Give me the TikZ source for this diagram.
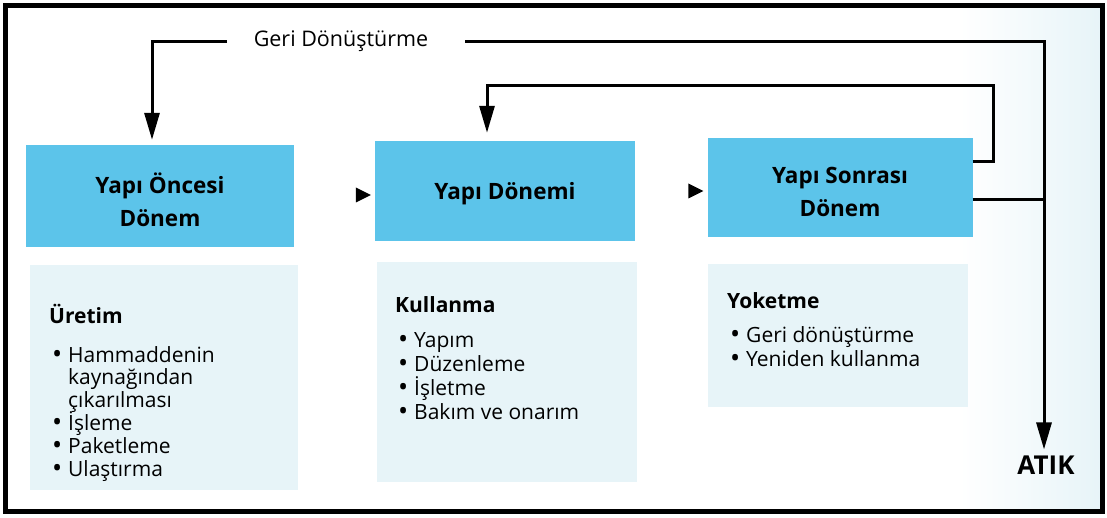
\documentclass[tikz,border=0pt]{standalone}
\usepackage{fontspec}
\setmainfont{Open Sans}
\usetikzlibrary{arrows.meta}
\definecolor{boxblue}{RGB}{92,196,234}
\definecolor{paleblue}{RGB}{231,244,248}
\newcommand\bul{\hspace*{3pt}\makebox[16pt][l]{\smash{\raisebox{-1.5pt}{\fontsize{27}{27}\selectfont\textbullet}}}}
\newcommand\ind{\hspace*{19pt}}
\AtBeginDocument{\lineskiplimit=-60pt\relax}
\tikzset{
  stage/.style={fill=boxblue, draw=none, minimum width=#1, minimum height=100pt, inner sep=0pt},
  stagetext/.style={align=center, inner sep=0pt, font=\fontsize{22.5}{33}\selectfont\bfseries},
  pale/.style={fill=paleblue, draw=none},
  conn/.style={line width=3pt, draw=black},
  arr/.style={conn, -{Triangle[length=27pt,width=15pt]}},
  lst/.style={anchor=base west, inner sep=0pt, align=left,
    font=\fontsize{21}{#1}\selectfont},
}
\begin{document}
\begin{tikzpicture}[x=1pt,y=-1pt]
\useasboundingbox (0,0) rectangle (1107,518);
\fill[white] (0,0) rectangle (1107,518);
\shade[left color=white, right color=paleblue] (960,8) rectangle (1100,509);
% pale lower panels
\fill[pale] (30,265) rectangle (298,490);
\fill[pale] (377,262) rectangle (637,482);
\fill[pale] (708,264) rectangle (968,407);
% stage boxes
\node[stage=268pt, minimum height=102pt] (b1) at (160,196) {};
\node[stage=260pt, minimum height=100pt] (b2) at (505,191) {};
\node[stage=265pt, minimum height=99pt] (b3) at (840,188) {};
\node[stagetext] (t1) at ([yshift=-4pt]b1.center) {Yapı Öncesi\\Dönem};
\node[stagetext] (t2) at ([yshift=-3pt]b2.center) {Yapı Dönemi};
\node[stagetext] (t3) at ([yshift=-4pt]b3.center) {Yapı Sonrası\\Dönem};
% small triangles
\fill ([xshift=-4pt,yshift=-4pt]b2.west) -- ++(-15,-7.5) -- ++(0,15) -- cycle;
\fill ([xshift=-4pt,yshift=-3pt]b3.west) -- ++(-15,-7.5) -- ++(0,15) -- cycle;
% title
\node[font=\fontsize{21.5}{26}\selectfont, inner sep=0pt] (title) at (341,41) {Geri Dönüştürme};
\coordinate (tl) at (227,42);
\coordinate (tr) at (465,42);
\node[font=\fontsize{26}{30}\selectfont\bfseries, inner sep=0pt] (atik) at (1046,465) {ATIK};
\coordinate (x1) at (152,0);
\coordinate (x2) at (487,0);
\coordinate (x3) at (1044,0);
\coordinate (x4) at (993,0);
\coordinate (y2) at (0,86);
% connectors
\draw[arr, shorten >=5pt] (tl) -| (b1.north -| x1);
\draw[arr, shorten >=6pt] (tr) -| (atik.north -| x3);
\draw[arr, shorten >=8pt] ([yshift=26pt]b3.east) -| (x4 |- y2) -| (b2.north -| x2);
\draw[conn] ([yshift=-12pt]b3.east) -- ([yshift=-12pt]b3.east -| x3);
% lists (anchored at the baseline of their last line)
\node[lst=22.8pt] (l1) at (49,476) {\textbf{Üretim}\\[16.2pt]
\bul Hammaddenin\\ \ind kaynağından\\ \ind çıkarılması\\ \bul İşleme\\ \bul Paketleme\\ \bul Ulaştırma};
\node[lst=24pt] (l2) at (395,419) {\textbf{Kullanma}\\[11pt]
\bul Yapım\\ \bul Düzenleme\\ \bul İşletme\\ \bul Bakım ve onarım};
\node[lst=24pt] (l3) at (727,366) {\textbf{Yoketme}\\[10pt]
\bul Geri dönüştürme\\ \bul Yeniden kullanma};
% frame
\draw[line width=5pt] (5.5,6) rectangle (1102.5,511);
\end{tikzpicture}
\end{document}
